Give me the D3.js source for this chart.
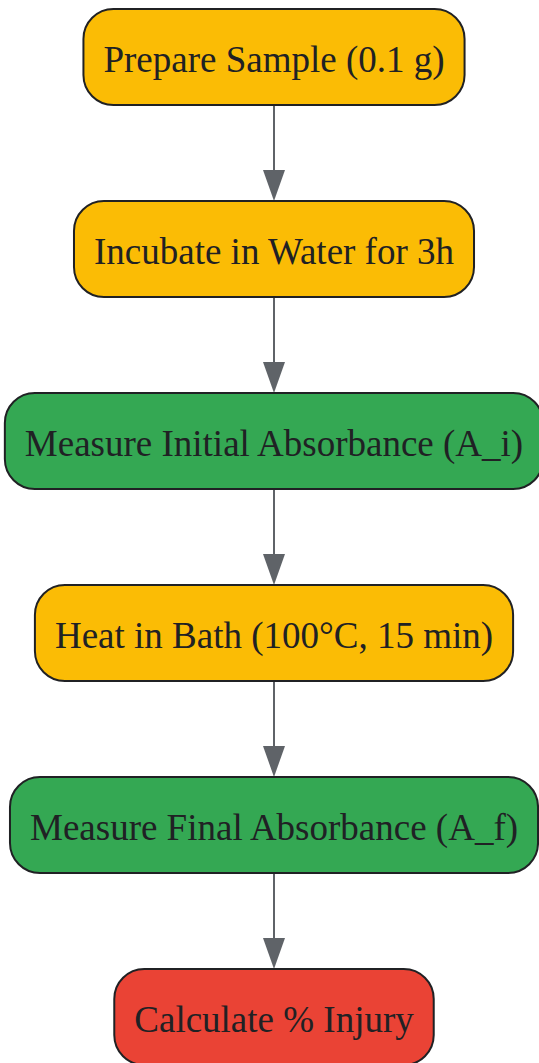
<!DOCTYPE html>
<html><head><meta charset="utf-8">
<script src="https://cdn.jsdelivr.net/npm/d3@7/dist/d3.min.js"></script>
<style>html,body{margin:0;padding:0;background:#fff;overflow:hidden}</style>
</head><body>
<svg id="chart" width="539" height="1063"></svg>
<script>
const steps = ["Prepare Sample (0.1 g)", "Incubate in Water for 3h", "Measure Initial Absorbance (A_i)", "Heat in Bath (100°C, 15 min)", "Measure Final Absorbance (A_f)", "Calculate % Injury"];
const stepTypes = ["prep", "prep", "measure", "prep", "measure", "result"];
const typeNames = ["prep", "measure", "result"];
const typeColors = ["#FBBC05", "#34A853", "#EA4335"];

const W = 539, H = 1063;
const boxH = 96, padX = 20, fontSize = 37, cx = 274;
const svg = d3.select("#chart");
const color = d3.scaleOrdinal().domain(typeNames).range(typeColors);
const y = d3.scalePoint().domain(steps).range([57, 57 + 192 * (steps.length - 1)]);

const edges = d3.pairs(steps);
const eg = svg.append("g");
edges.forEach(([a, b]) => {
  const y0 = y(a) + boxH / 2, y1 = y(b) - boxH / 2;
  eg.append("line").attr("x1", cx).attr("x2", cx).attr("y1", y0).attr("y2", y1 - 28)
    .attr("stroke", "#5f6368").attr("stroke-width", 2);
  eg.append("path").attr("d", `M${cx - 11},${y1 - 31}L${cx + 11},${y1 - 31}L${cx},${y1}Z`)
    .attr("fill", "#5f6368");
});

const ng = svg.append("g").selectAll("g").data(steps).join("g")
  .attr("transform", d => `translate(${cx},${y(d)})`);
const rects = ng.append("rect").attr("fill", (d, i) => color(stepTypes[i]))
  .attr("stroke", "#202124").attr("stroke-width", 2).attr("rx", 30).attr("ry", 30);
const texts = ng.append("text").text(d => d)
  .attr("text-anchor", "middle").attr("dy", "0.4em")
  .attr("font-family", "'Liberation Serif', 'Times New Roman', serif")
  .attr("font-size", fontSize).attr("fill", "#202124");
texts.each(function(d, i) {
  const w = this.getComputedTextLength() + 2 * padX;
  d3.select(rects.nodes()[i]).attr("x", -w / 2).attr("y", -boxH / 2).attr("width", w).attr("height", boxH);
});
</script>
</body></html>
